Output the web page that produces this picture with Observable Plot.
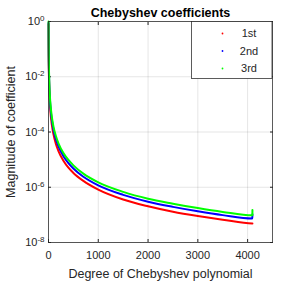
<!DOCTYPE html>
<html>
<head>
<meta charset="utf-8">
<script src="https://cdn.jsdelivr.net/npm/d3@7"></script>
<script src="https://cdn.jsdelivr.net/npm/@observablehq/plot@0.6"></script>
<style>
  html, body { margin: 0; padding: 0; background: #fff; }
  svg { font-family: "Liberation Sans", Arial, sans-serif; }
</style>
</head>
<body>
<div id="chart"></div>
<script>
// ---- data ----
const degrees = [1,2,3,4,5,6,8,10,15,20,30,40,60,80,100,150,200,300,400,500,700,1000,1500,2000,2500,3000,3500,4096];
const first  = [0.82,0.2,0.09,0.05,0.033,0.023,0.013,0.0082,0.0036,0.002,9.1e-4,5.1e-4,2.3e-4,1.3e-4,8.2e-5,3.6e-5,2.05e-5,9.1e-6,5.1e-6,3.3e-6,1.7e-6,8.2e-7,3.6e-7,2.05e-7,1.3e-7,9.1e-8,6.7e-8,4.9e-8];
const second = [0.9,0.3,0.135,0.075,0.05,0.034,0.019,0.0123,0.0055,0.0031,0.00137,7.7e-4,3.4e-4,1.95e-4,1.2e-4,5.4e-5,3.0e-5,1.33e-5,7.5e-6,4.8e-6,2.4e-6,1.17e-6,5.3e-7,3.0e-7,1.95e-7,1.35e-7,9.8e-8,7.4e-8];
const third  = [1.0,0.4,0.175,0.098,0.064,0.044,0.025,0.016,0.0071,0.004,0.00178,0.001,4.4e-4,2.5e-4,1.55e-4,7.0e-5,3.9e-5,1.72e-5,9.7e-6,6.2e-6,3.1e-6,1.5e-6,6.8e-7,3.85e-7,2.55e-7,1.76e-7,1.28e-7,9.6e-8];
// last coefficient of each series (slightly raised end points)
const lastDegree = 4097;
const lastValues = [4.9e-8, 1.05e-7, 1.5e-7];
const seriesNames = ["1st", "2nd", "3rd"];
const seriesColors = ["#ff0000", "#0000ff", "#00ff00"];
const xTicks = [0, 1000, 2000, 3000, 4000];
const yTicks = [1, 1e-2, 1e-4, 1e-6, 1e-8];
const yTickLabels = ["10^0", "10^-2", "10^-4", "10^-6", "10^-8"];

const allSeries = [first, second, third];
const rows = [];
allSeries.forEach((vals, s) => {
  degrees.forEach((d, i) => rows.push({series: seriesNames[s], n: d, v: vals[i]}));
  rows.push({series: seriesNames[s], n: lastDegree, v: lastValues[s]});
});

const ink = "#262626";
const chart = Plot.plot({
  width: 300,
  height: 281,
  marginLeft: 48,
  marginRight: 28,
  marginTop: 21,
  marginBottom: 39,
  style: {fontSize: "11px", color: ink, background: "#fff"},
  x: {domain: [0, 4500]},
  y: {type: "log", domain: [1e-8, 1]},
  color: {domain: seriesNames, range: seriesColors},
  marks: [
    Plot.gridX(xTicks, {stroke: "#000", strokeOpacity: 0.1}),
    Plot.gridY(yTicks, {stroke: "#000", strokeOpacity: 0.1}),
    Plot.axisX(xTicks, {anchor: "bottom", tickSize: -3, tickPadding: 12, stroke: ink, fill: ink, fontSize: 11,
      tickFormat: d => String(d), label: null}),
    Plot.axisX(xTicks, {anchor: "top", tickSize: -3, tickFormat: null, text: null, label: null, stroke: ink}),
    Plot.axisY(yTicks, {anchor: "left", tickSize: -3, tickPadding: 7, stroke: ink, fill: ink, fontSize: 11,
      tickFormat: d => yTickLabels[yTicks.indexOf(d)], label: null}),
    Plot.axisY(yTicks, {anchor: "right", tickSize: -3, tickFormat: null, text: null, label: null, stroke: ink}),
    Plot.line(rows, {x: "n", y: "v", z: "series", stroke: "series", strokeWidth: 2, curve: "monotone-x"}),
    Plot.frame({stroke: ink, strokeWidth: 0.75}),
    Plot.text(["Chebyshev coefficients"], {frameAnchor: "top", lineAnchor: "middle", dy: -9, fontWeight: "bold", fontSize: 12.5, fill: "#000"}),
    Plot.text(["Degree of Chebyshev polynomial"], {frameAnchor: "bottom", lineAnchor: "middle", dy: 31, fontSize: 12.5, fill: ink}),
    Plot.text(["Magnitude of coefficient"], {frameAnchor: "left", textAnchor: "middle", lineAnchor: "middle", dx: -38, rotate: -90, fontSize: 12.5, fill: ink})
  ]
});

document.getElementById("chart").appendChild(chart);

// superscript exponents on y tick labels
const ns = "http://www.w3.org/2000/svg";
chart.querySelectorAll('g[aria-label="y-axis tick label"] text').forEach(t => {
  const parts = t.textContent.split("^");
  if (parts.length !== 2) return;
  t.textContent = parts[0];
  const ts = document.createElementNS(ns, "tspan");
  ts.setAttribute("dy", "-0.5em");
  ts.setAttribute("font-size", "8");
  ts.textContent = parts[1];
  t.appendChild(ts);
});

// legend box (MATLAB style, top-right inside the axes)
const svg = d3.select(chart);
const lg = svg.append("g").attr("font-size", 11).attr("fill", ink);
lg.append("rect").attr("x", 191.5).attr("y", 21.5).attr("width", 80.5).attr("height", 57)
  .attr("fill", "#fff").attr("stroke", ink).attr("stroke-width", 0.75);
seriesNames.forEach((name, i) => {
  const cy = 33.5 + i * 17.5;
  lg.append("circle").attr("cx", 222.5).attr("cy", cy).attr("r", 0.9).attr("fill", seriesColors[i]);
  lg.append("text").attr("x", 249).attr("y", cy).attr("dy", "0.35em").text(name);
});
</script>
</body>
</html>
